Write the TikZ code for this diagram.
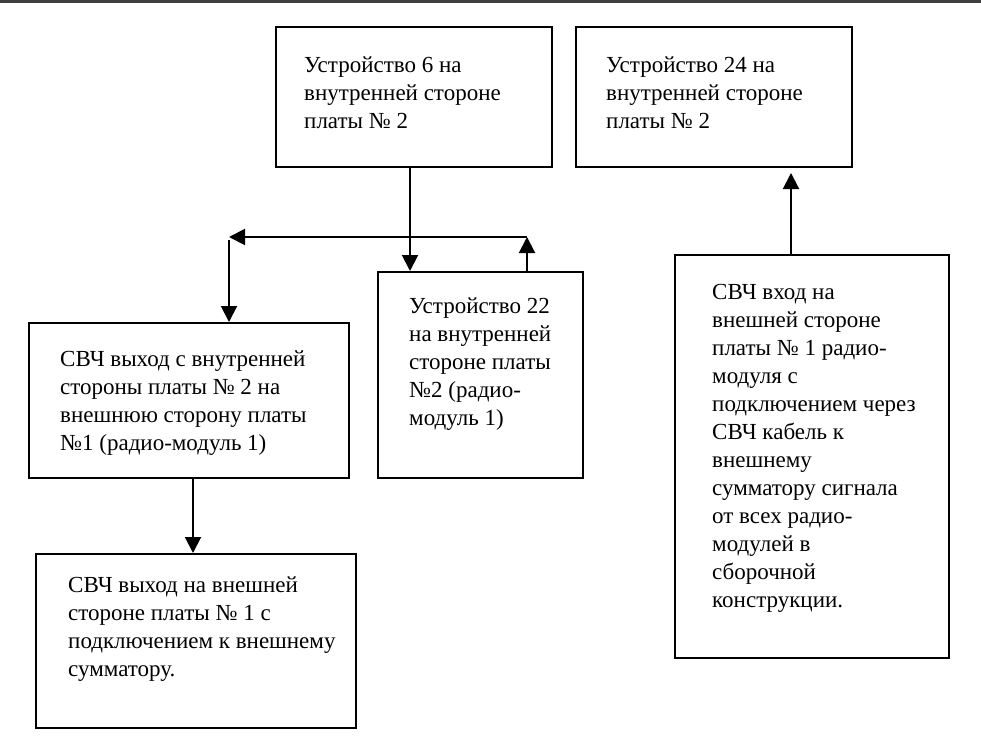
\documentclass[tikz,border=0pt]{standalone}
\usepackage{fontspec}
\setmainfont{Liberation Serif}
\usetikzlibrary{arrows.meta}
\newcommand{\blocktext}[1]{\vtop{\baselineskip=28pt\lineskiplimit=-20pt\halign{##\hfil\cr #1\crcr}}}
\begin{document}
\begin{tikzpicture}[x=1pt,y=-1pt,
  blockbox/.style={draw=black,line width=2pt,inner sep=0pt,anchor=north west},
  blocklabel/.style={inner sep=0pt,anchor=base west,font=\fontsize{23}{28}\selectfont},
  arr/.style={line width=2pt,-{Triangle[length=16pt,width=16pt]}},
  plain/.style={line width=2pt}]
\useasboundingbox (0,0) rectangle (981,746);
\fill[black!75] (0,0) rectangle (981,3);
% boxes
\node[blockbox,minimum width=276pt,minimum height=140pt] (a) at (275,26) {};
\node[blockbox,minimum width=276pt,minimum height=140pt] (b) at (575,26) {};
\node[blockbox,minimum width=205pt,minimum height=206pt] (c) at (377,271) {};
\node[blockbox,minimum width=320pt,minimum height=155pt] (d) at (28,322) {};
\node[blockbox,minimum width=320pt,minimum height=174pt] (e) at (35,553) {};
\node[blockbox,minimum width=274pt,minimum height=403pt] (f) at (674,254) {};
% texts
\node[blocklabel] (ta) at (304,73) {\blocktext{Устройство 6 на\cr внутренней стороне\cr платы № 2}};
\node[blocklabel] (tb) at (606,73) {\blocktext{Устройство 24 на\cr внутренней стороне\cr платы № 2}};
\node[blocklabel] (tc) at (409,313) {\blocktext{Устройство 22\cr на внутренней\cr стороне платы\cr №2 (радио-\cr модуль 1)}};
\node[blocklabel] (td) at (60,366) {\blocktext{СВЧ выход с внутренней\cr стороны платы № 2 на\cr внешнюю сторону платы\cr №1 (радио-модуль 1)}};
\node[blocklabel] (te) at (68,592) {\blocktext{СВЧ выход на внешней\cr стороне платы № 1 с\cr подключением к внешнему\cr сумматору.}};
\node[blocklabel] (tf) at (712,299) {\blocktext{СВЧ вход на\cr внешней стороне\cr платы № 1 радио-\cr модуля с\cr подключением через\cr СВЧ кабель к\cr внешнему\cr сумматору сигнала\cr от всех радио-\cr модулей в\cr сборочной\cr конструкции.}};
% connectors
\coordinate (cup) at (527,237);
\coordinate (lend) at (229,237);
\coordinate (dstart) at (229,240);
\coordinate (btip) at (791,173);
\draw[arr] (410,0 |- a.south) -- (410,0 |- c.north);
\draw[arr] (527,0 |- c.north) -- (cup);
\draw[arr] (cup) -- (lend);
\draw[arr] (dstart) -- (229,0 |- d.north);
\draw[arr] (193,0 |- d.south) -- (193,0 |- e.north);
\draw[arr] (791,0 |- f.north) -- (btip);
\end{tikzpicture}
\end{document}
